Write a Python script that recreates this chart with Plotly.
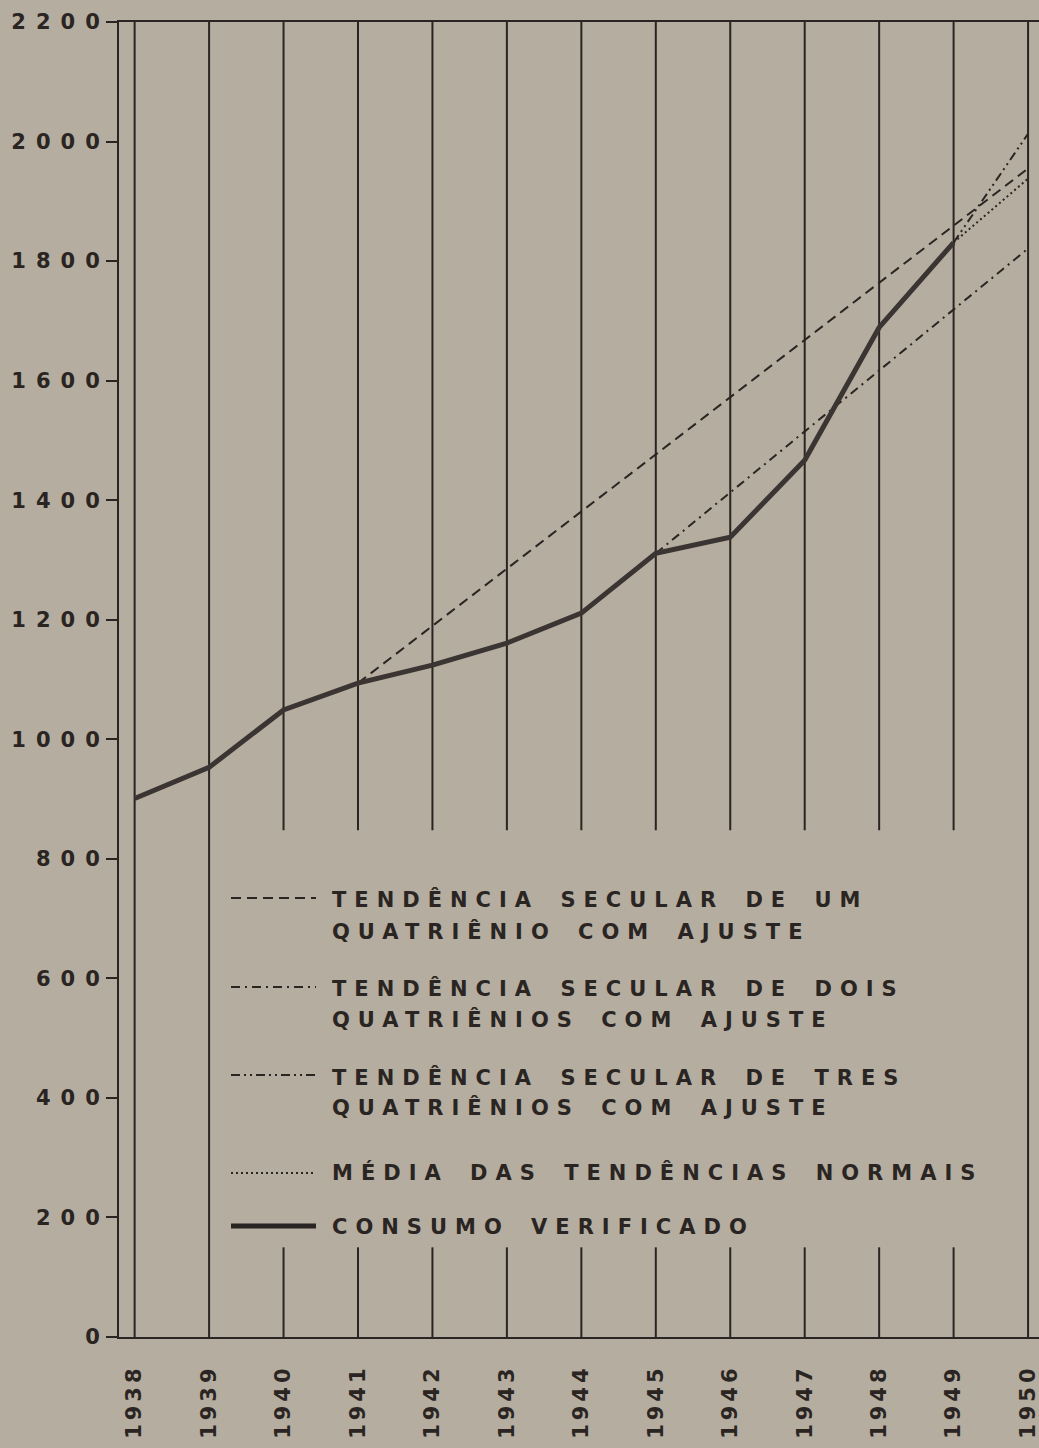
import plotly.graph_objects as go

# ---------------- data ----------------
years = list(range(1938, 1951))
year_labels = [str(y) for y in years]

consumo_years = list(range(1938, 1950))
consumo = [901, 953, 1049, 1094, 1124, 1161, 1211, 1311, 1338, 1467, 1689, 1831]

t1_years = [1941, 1950]          # tendência secular de um quatriênio
t1_vals = [1094, 1955]
t2_years = [1945, 1950]          # tendência secular de dois quatriênios
t2_vals = [1311, 1821]
t3_years = [1949, 1950]          # tendência secular de tres quatriênios
t3_vals = [1831, 2013]
media_years = [1949, 1950]       # média das tendências normais
media_vals = [1831, 1938]

y_ticks = list(range(0, 2201, 200))
y_labels = [str(v) for v in y_ticks]

full_grid_years = [1938, 1939, 1950]
split_grid_years = list(range(1940, 1950))
Y_MAX = 2200
GAP_TOP = 848
GAP_BOTTOM = 150

legend_lines = [
    ["TENDÊNCIA SECULAR DE UM", "QUATRIÊNIO COM AJUSTE"],
    ["TENDÊNCIA SECULAR DE DOIS", "QUATRIÊNIOS COM AJUSTE"],
    ["TENDÊNCIA SECULAR DE TRES", "QUATRIÊNIOS COM AJUSTE"],
    ["MÉDIA DAS TENDÊNCIAS NORMAIS"],
    ["CONSUMO VERIFICADO"],
]

# ---------------- style ----------------
BG = "#b5ad9f"
INK = "#2a2522"
LINE_INK = "#3a3532"
FONT = "DejaVu Sans"
W, H = 1039, 1448
ML, MR, MT, MB = 119, 0, 22, 111
PW, PH = W - ML - MR, H - MT - MB

DASH1 = "10px,6px"
DASH2 = "9px,5px,2px,5px"
DASH3 = "9px,4px,2px,4px,2px,4px"
DOT = "2px,3px"

X0 = 1937.79
X1 = 1950.147

fig = go.Figure()

# vertical grid lines (with the gap around the legend)
gx, gy = [], []
for yr in full_grid_years:
    gx += [yr, yr, None]
    gy += [0, Y_MAX, None]
for yr in split_grid_years:
    gx += [yr, yr, None, yr, yr, None]
    gy += [Y_MAX, GAP_TOP, None, GAP_BOTTOM, 0, None]
fig.add_trace(go.Scatter(x=gx, y=gy, mode="lines", line=dict(color=INK, width=2),
                         hoverinfo="skip", showlegend=False))

fig.add_trace(go.Scatter(x=t1_years, y=t1_vals, mode="lines",
                         line=dict(color=INK, width=2, dash=DASH1), showlegend=False))
fig.add_trace(go.Scatter(x=t2_years, y=t2_vals, mode="lines",
                         line=dict(color=INK, width=2, dash=DASH2), showlegend=False))
fig.add_trace(go.Scatter(x=t3_years, y=t3_vals, mode="lines",
                         line=dict(color=INK, width=2, dash=DASH3), showlegend=False))
fig.add_trace(go.Scatter(x=media_years, y=media_vals, mode="lines",
                         line=dict(color=INK, width=2, dash=DOT), showlegend=False))
fig.add_trace(go.Scatter(x=consumo_years, y=consumo, mode="lines",
                         line=dict(color=LINE_INK, width=5), showlegend=False))


def px_x(p):
    return (p - ML) / PW


def px_y(p):
    return (H - MB - p) / PH


# manual legend
sample_y = [898, 987, 1075, 1173, 1226]
text_y = [[899, 931], [988, 1019], [1077, 1107], [1172], [1227]]
sample_dash = [DASH1, DASH2, DASH3, DOT, "solid"]
sample_w = [2, 2, 2, 2, 5]
for i in range(5):
    fig.add_shape(type="line", xref="paper", yref="paper",
                  x0=px_x(231), x1=px_x(316), y0=px_y(sample_y[i]), y1=px_y(sample_y[i]),
                  line=dict(color=INK, width=sample_w[i], dash=sample_dash[i]))
    for txt, ty in zip(legend_lines[i], text_y[i]):
        fig.add_annotation(text=txt, xref="paper", yref="paper",
                           x=px_x(330), y=px_y(ty), xanchor="left", yanchor="middle",
                           align="left", showarrow=False,
                           font=dict(family=FONT, size=21, color=INK, weight="bold"))

fig.update_layout(
    width=W, height=H,
    margin=dict(l=ML, r=MR, t=MT, b=MB, autoexpand=False),
    paper_bgcolor=BG, plot_bgcolor=BG,
    showlegend=False,
    xaxis=dict(range=[X0, X1], tickvals=years, ticktext=year_labels, tickangle=-90,
               ticks="", showgrid=False, zeroline=False,
               showline=True, linecolor=INK, linewidth=2, mirror=True,
               ticklabelstandoff=17, automargin=False, ticklabeloverflow="allow",
               tickfont=dict(family=FONT, size=21, color=INK, weight="bold")),
    yaxis=dict(range=[0, Y_MAX], tickvals=y_ticks, ticktext=y_labels,
               ticks="outside", ticklen=11, tickwidth=2, tickcolor=INK,
               showgrid=False, zeroline=False,
               showline=True, linecolor=INK, linewidth=2, automargin=False,
               ticklabelstandoff=-8, ticklabeloverflow="allow",
               tickfont=dict(family=FONT, size=21, color=INK, weight="bold")),
)

post = """
document.body.style.margin='0';
var gd=document.getElementById('{plot_id}');
gd.querySelectorAll('.annotation-text').forEach(function(t){t.style.letterSpacing='8px';t.style.wordSpacing='6px';});
gd.querySelectorAll('.ytick text').forEach(function(t){t.style.letterSpacing='10px';});
gd.querySelectorAll('.xtick text').forEach(function(t){t.style.letterSpacing='4px';});
"""

fig.write_html("out.html", post_script=post, config={"displayModeBar": False})
